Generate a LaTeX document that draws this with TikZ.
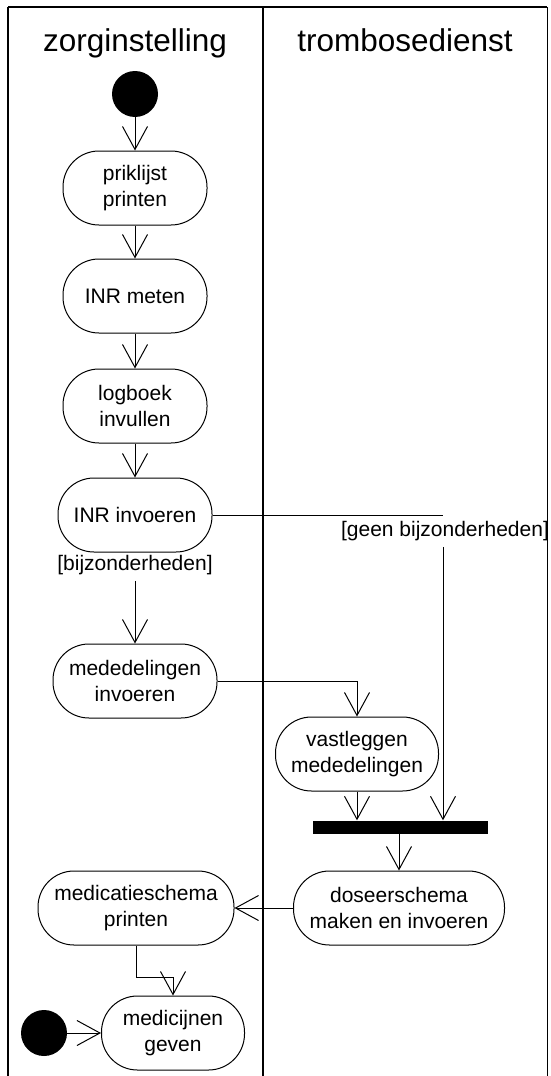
\documentclass[tikz,border=0pt]{standalone}
\usepackage{fontspec}
\setmainfont{Liberation Sans}
\usetikzlibrary{arrows.meta,positioning}
\newcommand{\actiefont}{\fontsize{21}{26}\selectfont}
\newcommand{\baanfont}{\fontsize{31.5}{36}\selectfont}
\tikzset{
	actie/.style={draw, line width=1pt, rounded corners=36pt, minimum height=74pt,
			align=center, font=\actiefont},
	pijl/.style={-{Straight Barb[length=23pt,width=25pt]}, line width=1pt},
	bolletje/.style={circle, fill=black, minimum size=46pt, inner sep=0pt},
	baan/.style={line width=2pt},
	voorwaarde/.style={font=\actiefont, inner sep=6pt}
}

\begin{document}
\begin{tikzpicture}[x=1pt, y=-1pt]
    \useasboundingbox (0,0) rectangle (551,1076);
    \coordinate (lo) at (8,7);
    \coordinate (mo) at (263,7);
    \coordinate (ro) at (547,7);
    \draw[baan] (lo) -- (ro);
    \draw[baan] (lo) -- (8,1076);
    \draw[baan] (mo) -- (263,1076);
    \draw[line width=1pt] (ro) -- (547,1076);
    \node[font=\baanfont, anchor=base] (zorg) at (135,51) {zorginstelling};
    \node[font=\baanfont, anchor=base] (trombo) at (405,51) {trombosedienst};

    \node[bolletje] (start) at (135,94) {};
    \node[actie, minimum width=144pt] (prik) at (135,188) {priklijst\\printen};
    \node[actie, minimum width=144pt] (meten) at (135,296) {INR meten};
    \node[actie, minimum width=144pt] (logboek) at (135,406) {logboek\\invullen};
    \node[actie, minimum width=154pt] (invoer) at (135,515) {INR invoeren};
    \node[voorwaarde] (bijz) at (135,565) {[bijzonderheden]};
    \node[voorwaarde] (geen) at (445,531) {[geen bijzonderheden]};
    \node[actie, minimum width=164pt] (meded) at (135,681) {mededelingen\\invoeren};
    \node[actie, minimum width=163pt] (vast) at (357,754) {vastleggen\\mededelingen};
    \node[fill=black, minimum width=175pt, minimum height=13pt, inner sep=0pt] (bar) at (400,827) {};
    \node[actie, minimum width=211pt] (dose) at (399,908) {doseerschema\\maken en invoeren};
    \node[actie, minimum width=196pt] (medi) at (136,908) {medicatieschema\\printen};
    \node[actie, minimum width=143pt] (geven) at (173,1033) {medicijnen\\geven};
    \node[bolletje] (eind) at (44,1033) {};
    \coordinate (knik) at (443,515);

    \draw[pijl] (start) -- (prik);
    \draw[pijl] (prik) -- (meten);
    \draw[pijl] (meten) -- (logboek);
    \draw[pijl] (logboek) -- (invoer);
    \draw[pijl] (bijz) -- (meded);
    \draw[line width=1pt] (invoer.east) -- (knik);
    \draw[pijl] (geen.south -| knik) -- (knik |- bar.north);
    \draw[pijl] (meded.east) -| (vast.north);
    \draw[pijl] (vast.south) -- (vast.south |- bar.north);
    \draw[pijl] (bar.south -| dose.north) -- (dose.north);
    \draw[pijl] (dose.west) -- (medi.east);
    \draw[pijl] (medi.south) -- ++(0,32) -| (geven.north);
    \draw[pijl] (eind) -- (geven.west);
\end{tikzpicture}
\end{document}
